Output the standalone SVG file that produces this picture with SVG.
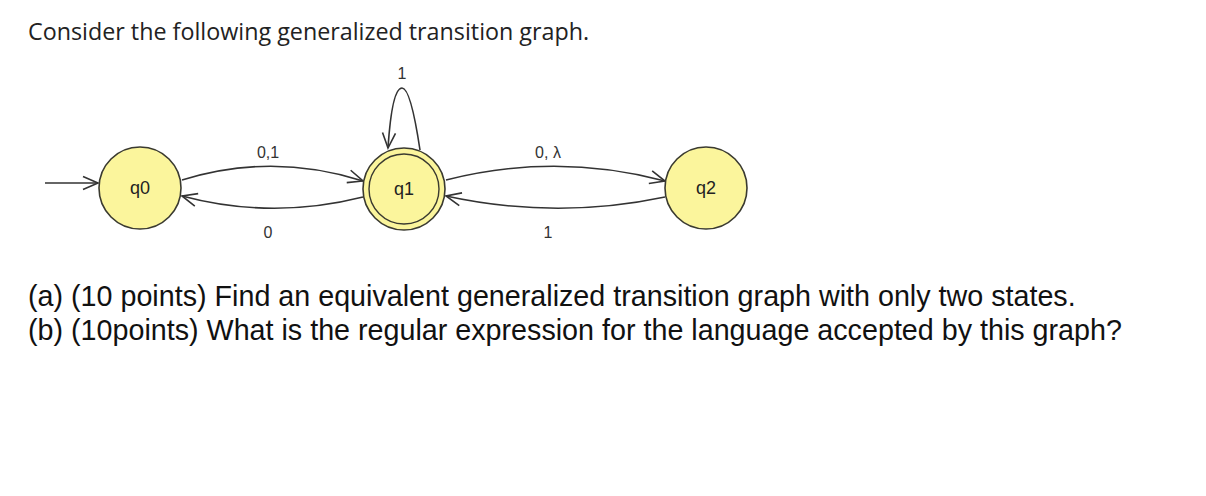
<svg xmlns="http://www.w3.org/2000/svg" width="1206" height="496" viewBox="0 0 1206 496">
<defs>
<style>
.st{fill:#fbf59c;stroke:#3a3a30;stroke-width:1.6}
.sl{font-family:"Liberation Sans",Arial,sans-serif;font-size:18px;fill:#222;text-anchor:middle}
.el{font-family:"Liberation Sans",Arial,sans-serif;font-size:16px;fill:#333;text-anchor:middle}
.ed{fill:none;stroke:#333;stroke-width:1.6}
.q{font-family:"Liberation Sans",Arial,sans-serif;font-size:28.7px;fill:#111}
.t{font-family:"Open Sans","Noto Sans",sans-serif;font-size:23.3px;fill:#222}
</style>
<marker id="ah" markerWidth="18" markerHeight="18" refX="16" refY="9" orient="auto" markerUnits="userSpaceOnUse">
<path d="M1,2.5 L16,9 L1,15.5" fill="none" stroke="#333" stroke-width="1.6"/>
</marker>
</defs>
<rect width="1206" height="496" fill="#fff"/>
<text class="t" x="28" y="40">Consider the following generalized transition graph.</text>
<g id="connectors">
<path id="start" class="ed" d="M45,183 L98,183" marker-end="url(#ah)"/>
<path id="q0q1" class="ed" d="M182,180 Q272,152 363,181" marker-end="url(#ah)"/>
<path id="q1q0" class="ed" d="M363,197 Q272,220 182,196" marker-end="url(#ah)"/>
<path id="q1q1" class="ed" d="M420,150 C414,110 408,88 402,88 C394,88 390,118 388,148" marker-end="url(#ah)"/>
<path id="q1q2" class="ed" d="M446,180 Q556,152 665,181" marker-end="url(#ah)"/>
<path id="q2q1" class="ed" d="M665,197 Q556,220 446,196" marker-end="url(#ah)"/>
<text class="el" x="268" y="158">0,1</text>
<text class="el" x="268" y="238">0</text>
<text class="el" x="402" y="79">1</text>
<text class="el" x="548" y="158">0, λ</text>
<text class="el" x="548" y="238">1</text>
</g>
<g id="q0"><circle class="st" cx="140" cy="188" r="41"/><text class="sl" x="140" y="194">q0</text></g>
<g id="q1"><circle class="st" cx="404" cy="189" r="41"/><circle fill="none" stroke="#3a3a30" stroke-width="1.4" cx="404" cy="189" r="35"/><text class="sl" x="404" y="195">q1</text></g>
<g id="q2"><circle class="st" cx="706" cy="188" r="41"/><text class="sl" x="706" y="194">q2</text></g>
<text class="q" x="28" y="306">(a) (10 points) Find an equivalent generalized transition graph with only two states.</text>
<text class="q" x="28" y="340">(b) (10points) What is the regular expression for the language accepted by this graph?</text>
</svg>
